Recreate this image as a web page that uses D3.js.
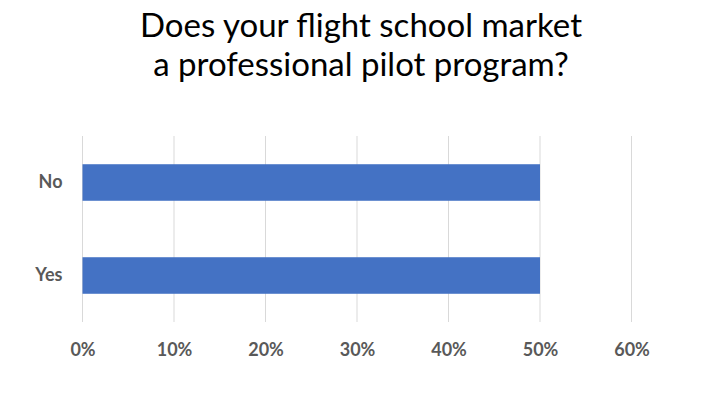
<!DOCTYPE html>
<html><head><meta charset="utf-8">
<script src="https://cdn.jsdelivr.net/npm/d3@7"></script>
<style>body{margin:0;background:#fff}</style>
</head><body>
<svg id="c" width="720" height="405"></svg>
<script>
const categories = ["No", "Yes"];
const values = [0.5, 0.5];
const tickValues = [0, 0.1, 0.2, 0.3, 0.4, 0.5, 0.6];
const titleLines = ["Does your flight school market", "a professional pilot program?"];

const svg = d3.select("#c");
const font = "Lato, 'Open Sans', sans-serif";
const m = {left: 82.5, right: 88.5, top: 136, bottom: 83};
const W = 720, H = 405;
const x = d3.scaleLinear().domain([0, 0.6]).range([m.left, W - m.right]);
const y = d3.scaleBand().domain(categories).range([m.top, H - m.bottom])
  .paddingInner(0.607).paddingOuter(0.3035);

// title
svg.append("g").selectAll("text").data(titleLines).join("text")
  .attr("x", 361).attr("y", (d, i) => 37 + i * 39)
  .attr("text-anchor", "middle")
  .style("font-family", font).style("font-size", "33px").style("fill", "#000")
  .text(d => d);

// grid
svg.append("g").selectAll("line").data(tickValues).join("line")
  .attr("x1", d => x(d)).attr("x2", d => x(d))
  .attr("y1", m.top).attr("y2", H - m.bottom)
  .attr("stroke", "#d9d9d9").attr("stroke-width", 1);

// bars
svg.append("g").selectAll("rect").data(categories).join("rect")
  .attr("x", x(0)).attr("y", d => y(d))
  .attr("width", (d, i) => x(values[i]) - x(0))
  .attr("height", y.bandwidth())
  .attr("fill", "#4472c4");

// x axis
const xa = svg.append("g").attr("transform", `translate(0,${H - m.bottom})`)
  .call(d3.axisBottom(x).tickValues(tickValues).tickFormat(d3.format(".0%")).tickSize(0).tickPadding(21));
xa.select(".domain").remove();
xa.selectAll("text").style("font-family", font).style("font-size", "18px")
  .style("font-weight", "bold").style("fill", "#595959");

// y axis
const ya = svg.append("g").attr("transform", `translate(${m.left},0)`)
  .call(d3.axisLeft(y).tickSize(0).tickPadding(20));
ya.select(".domain").remove();
ya.selectAll("text").style("font-family", font).style("font-size", "18px")
  .style("font-weight", "bold").style("fill", "#595959");
</script>
</body></html>
